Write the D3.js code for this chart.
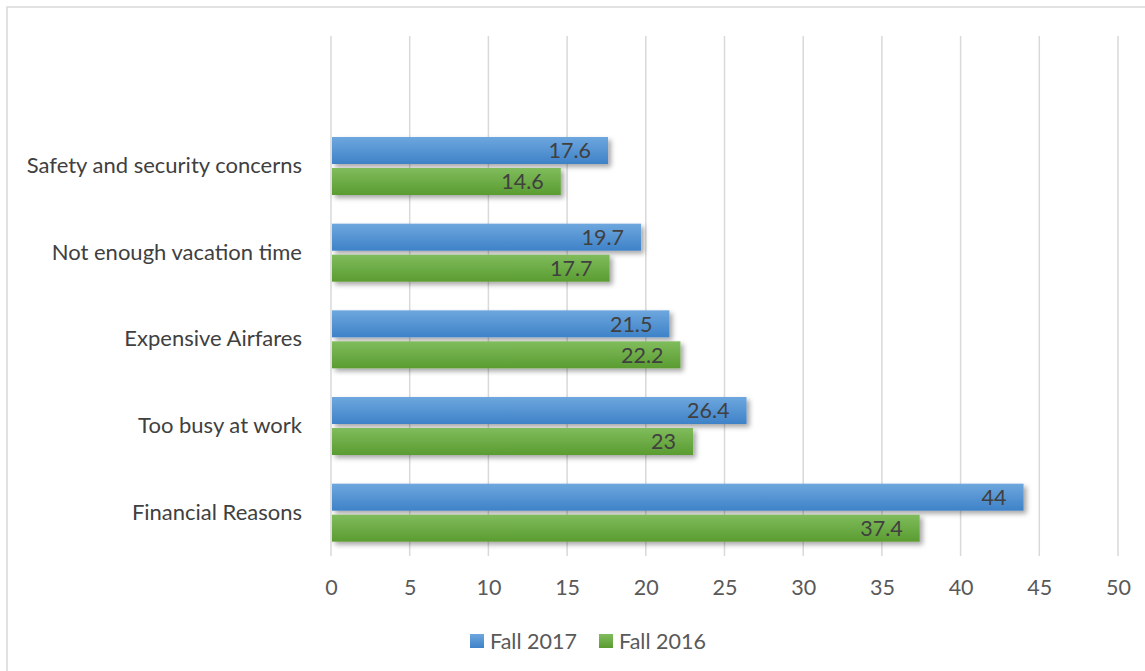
<!DOCTYPE html>
<html>
<head>
<meta charset="utf-8">
<script src="https://d3js.org/d3.v7.min.js"></script>
<style>
  body { margin: 0; background: #fff; }
  text { font-family: Lato, "Open Sans", sans-serif; }
</style>
</head>
<body>
<svg id="chart"></svg>
<script>
// data (top row is an empty category, as in the source chart)
var categories = ["", "Safety and security concerns", "Not enough vacation time", "Expensive Airfares", "Too busy at work", "Financial Reasons"];
var fall2017 = [null, 17.6, 19.7, 21.5, 26.4, 44];
var fall2016 = [null, 14.6, 17.7, 22.2, 23, 37.4];
var seriesNames = ["Fall 2017", "Fall 2016"];
var xTicks = [0, 5, 10, 15, 20, 25, 30, 35, 40, 45, 50];

var W = 1145, H = 671;
var FS = "21.5px";
var svg = d3.select("#chart").attr("width", W).attr("height", H);

var defs = svg.append("defs");
function grad(id, top, bottom) {
  var g = defs.append("linearGradient").attr("id", id)
    .attr("x1", 0).attr("y1", 0).attr("x2", 0).attr("y2", 1);
  g.append("stop").attr("offset", "0%").attr("stop-color", top);
  g.append("stop").attr("offset", "100%").attr("stop-color", bottom);
}
grad("gBlue", "#6ea7de", "#3e82c8");
grad("gGreen", "#80bc5c", "#5a9c31");
var f = defs.append("filter").attr("id", "shadow")
  .attr("x", "-5%").attr("y", "-30%").attr("width", "115%").attr("height", "180%");
f.append("feDropShadow").attr("dx", 3).attr("dy", 3).attr("stdDeviation", 2.5)
  .attr("flood-color", "#000").attr("flood-opacity", 0.35);

// outer frame
svg.append("rect").attr("x", 7).attr("y", 7).attr("width", W + 10).attr("height", H + 10)
  .attr("fill", "none").attr("stroke", "#d9d9d9").attr("stroke-width", 1.5);

var x = d3.scaleLinear().domain([0, 50]).range([331, 1118]);
var y = d3.scaleBand().domain(categories).range([36, 556]);

// gridlines
svg.append("g").selectAll("line").data(xTicks).join("line")
  .attr("x1", d => x(d)).attr("x2", d => x(d))
  .attr("y1", 36).attr("y2", 556)
  .attr("stroke", "#d9d9d9").attr("stroke-width", 1.5);

// x axis labels
var xAxis = d3.axisBottom(x).tickValues(xTicks).tickSize(0).tickPadding(0);
var ax = svg.append("g").attr("transform", "translate(0,587)").call(xAxis);
ax.select(".domain").remove();
ax.selectAll("text").attr("dy", "0.36em").attr("fill", "#595959")
  .style("font-size", FS).style("font-family", "Lato, sans-serif");

// category labels
var yAxis = d3.axisLeft(y).tickSize(0).tickPadding(0);
var ay = svg.append("g").attr("transform", "translate(302,0)").call(yAxis);
ay.select(".domain").remove();
ay.selectAll("text").attr("fill", "#404040")
  .style("font-size", "22px").style("font-family", "Lato, sans-serif");

var barH = 27, gap = 4;
var rows = categories.map((c, i) => ({ c: c, a: fall2017[i], b: fall2016[i] })).filter(d => d.a != null);

var sets = [
  { key: "a", fill: "url(#gBlue)", off: -(barH + gap / 2) },
  { key: "b", fill: "url(#gGreen)", off: gap / 2 }
];
sets.forEach(function (s) {
  var g = svg.append("g");
  g.selectAll("rect").data(rows).join("rect")
    .attr("x", x(0) + 1)
    .attr("y", d => y(d.c) + y.bandwidth() / 2 + s.off)
    .attr("width", d => x(d[s.key]) - x(0) - 1)
    .attr("height", barH)
    .attr("fill", s.fill)
    .attr("filter", "url(#shadow)");
  g.selectAll("text").data(rows).join("text")
    .attr("x", d => x(d[s.key]) - 17)
    .attr("y", d => y(d.c) + y.bandwidth() / 2 + s.off + barH / 2)
    .attr("dy", "0.36em")
    .attr("text-anchor", "end")
    .attr("fill", "#404040")
    .style("font-size", FS)
    .text(d => d[s.key]);
});

// legend
var legendColors = ["url(#gBlue)", "url(#gGreen)"];
var lx = [470, 599];
seriesNames.forEach(function (n, i) {
  svg.append("rect").attr("x", lx[i]).attr("y", 634).attr("width", 14).attr("height", 14)
    .attr("fill", legendColors[i]);
  svg.append("text").attr("x", lx[i] + 20).attr("y", 641).attr("dy", "0.36em")
    .attr("fill", "#595959").style("font-size", FS).text(n);
});
</script>
</body>
</html>
